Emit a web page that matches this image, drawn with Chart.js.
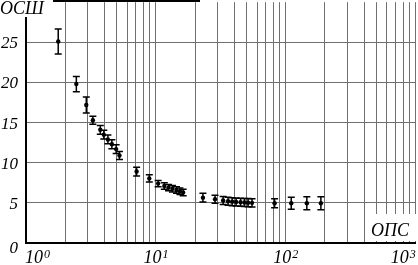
<!DOCTYPE html>
<html><head><meta charset="utf-8">
<script src="https://cdn.jsdelivr.net/npm/chart.js@4/dist/chart.umd.min.js"></script>
<style>html,body{margin:0;padding:0;background:#fff;overflow:hidden}</style>
</head><body>
<canvas id="c" width="418" height="265"></canvas>
<script>
// ---- data ----
const xValues = [1.77, 2.44, 2.91, 3.27, 3.73, 3.97, 4.27, 4.58, 4.94, 5.24,
                 7.1, 8.89, 10.4, 11.6, 12.5, 13.4, 14.4, 15.3, 16.2,
                 23.0, 28.5, 32.9, 35.9, 38.6, 41.4, 44.8, 48.0, 51.2, 54.9,
                 81.9, 110, 145, 186];
const yValues = [25.1, 19.8, 17.2, 15.3, 14.1, 13.5, 12.9, 12.3, 11.7, 10.9,
                 8.9, 8.05, 7.4, 7.1, 6.9, 6.75, 6.6, 6.45, 6.3,
                 5.65, 5.45, 5.3, 5.2, 5.15, 5.1, 5.08, 5.05, 5.03, 5.0,
                 4.95, 4.95, 4.95, 4.95];
const yErrors = [1.55, 0.95, 1.0, 0.5, 0.55, 0.55, 0.55, 0.55, 0.55, 0.5,
                 0.55, 0.45, 0.4, 0.4, 0.4, 0.4, 0.4, 0.4, 0.4,
                 0.55, 0.5, 0.5, 0.5, 0.5, 0.5, 0.5, 0.5, 0.5, 0.5,
                 0.55, 0.75, 0.8, 0.8];
const yTickValues = [0, 5, 10, 15, 20, 25];
const xDecadeExponents = [0, 1, 2, 3];
const yAxisTitle = 'ОСШ';
const xAxisTitle = 'ОПС';

const SERIF = '"Liberation Serif","Times New Roman",serif';
const GRID = '#707070';

const points = xValues.map((x, i) => ({x: x, y: yValues[i]}));

const xGridValues = [];
for (let e = 0; e < 3; e++) for (let m = 1; m < 10; m++) xGridValues.push(m * Math.pow(10, e));
xGridValues.push(1000);
const yGridValues = [0, 5, 10, 15, 20, 25, 30];

const errorBars = {
  id: 'errorBars',
  beforeDatasetsDraw(chart) {
    const xs = chart.scales.x, ys = chart.scales.y, ctx = chart.ctx;
    ctx.save();
    ctx.strokeStyle = '#000';
    ctx.lineWidth = 1.5;
    xValues.forEach((xv, i) => {
      const px = xs.getPixelForValue(xv);
      const top = ys.getPixelForValue(yValues[i] + yErrors[i]);
      const bot = ys.getPixelForValue(yValues[i] - yErrors[i]);
      ctx.beginPath();
      ctx.moveTo(px, top); ctx.lineTo(px, bot);
      ctx.moveTo(px - 3.5, top); ctx.lineTo(px + 3.5, top);
      ctx.moveTo(px - 3.5, bot); ctx.lineTo(px + 3.5, bot);
      ctx.stroke();
    });
    ctx.restore();
  }
};

const labels = {
  id: 'labels',
  afterDraw(chart) {
    const xs = chart.scales.x, ys = chart.scales.y, ctx = chart.ctx;
    ctx.save();
    // top frame segment
    ctx.strokeStyle = '#000';
    ctx.lineWidth = 2;
    ctx.beginPath(); ctx.moveTo(53, 1); ctx.lineTo(200, 1); ctx.stroke();
    // y title box
    ctx.fillStyle = '#fff';
    ctx.fillRect(0, 0, 52, 17);
    ctx.fillStyle = '#000';
    ctx.font = 'italic 18px ' + SERIF;
    ctx.textBaseline = 'alphabetic';
    ctx.textAlign = 'left';
    ctx.fillText(yAxisTitle, 0, 14);
    // x title box
    ctx.fillStyle = '#fff';
    ctx.fillRect(366, 214, 50, 27);
    ctx.fillStyle = '#000';
    ctx.fillText(xAxisTitle, 371, 236);
    // y tick labels
    ctx.font = 'italic 17px ' + SERIF;
    ctx.textAlign = 'right';
    ctx.textBaseline = 'middle';
    yTickValues.forEach(v => {
      const py = ys.getPixelForValue(v) + (v === 0 ? 6 : 1.5);
      ctx.fillText(String(v), 18, py);
    });
    // x tick labels 10^n
    ctx.textAlign = 'left';
    ctx.textBaseline = 'alphabetic';
    xDecadeExponents.forEach(e => {
      const px = xs.getPixelForValue(Math.pow(10, e));
      ctx.font = 'italic 18px ' + SERIF;
      const wb = ctx.measureText('10').width;
      ctx.font = 'italic 12px ' + SERIF;
      const ws = ctx.measureText(String(e)).width;
      const w = wb + ws + 1;
      let start;
      if (e === xDecadeExponents[0]) start = px - 1;
      else if (e === xDecadeExponents[xDecadeExponents.length - 1]) start = px - w;
      else start = px - w / 2;
      ctx.font = 'italic 18px ' + SERIF;
      ctx.fillText('10', start, 263);
      ctx.font = 'italic 12px ' + SERIF;
      ctx.fillText(String(e), start + wb + 1, 258);
    });
    ctx.restore();
  }
};

new Chart(document.getElementById('c'), {
  type: 'scatter',
  data: {
    datasets: [{
      data: points,
      backgroundColor: '#000',
      borderColor: '#000',
      pointRadius: 2.2,
      pointHoverRadius: 2.2,
      borderWidth: 0
    }]
  },
  options: {
    responsive: false,
    animation: false,
    devicePixelRatio: 1,
    layout: {padding: {top: 1.5, right: 0, left: 0, bottom: 0}},
    plugins: {legend: {display: false}, tooltip: {enabled: false}},
    scales: {
      x: {
        type: 'logarithmic',
        min: 1, max: 1000,
        afterBuildTicks: s => { s.ticks = xGridValues.map(v => ({value: v})); },
        afterFit: s => { s.height = 22; },
        ticks: {display: false},
        grid: {
          drawTicks: false,
          color: c => (c.tick && c.tick.value === 1) ? 'rgba(0,0,0,0)' : GRID,
          lineWidth: 1
        },
        border: {display: true, color: '#000', width: 2}
      },
      y: {
        type: 'linear',
        min: 0, max: 30,
        afterBuildTicks: s => { s.ticks = yGridValues.map(v => ({value: v})); },
        afterFit: s => { s.width = 26; },
        ticks: {display: false},
        grid: {
          drawTicks: false,
          color: c => (c.tick && (c.tick.value === 0 || c.tick.value === 30)) ? 'rgba(0,0,0,0)' : GRID,
          lineWidth: 1
        },
        border: {display: true, color: '#000', width: 2}
      }
    }
  },
  plugins: [errorBars, labels]
});
</script>
</body></html>
